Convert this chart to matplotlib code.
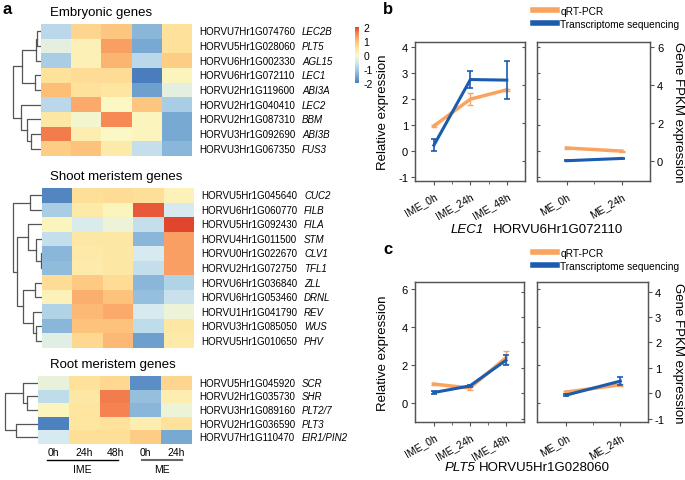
import matplotlib
matplotlib.use('Agg')
import matplotlib.pyplot as plt
import numpy as np
from matplotlib.colors import LinearSegmentedColormap
from matplotlib.transforms import offset_copy
from matplotlib.lines import Line2D

plt.rcParams['font.family'] = ['Liberation Sans', 'DejaVu Sans']
plt.rcParams['axes.unicode_minus'] = False

# ---------------- heatmap data (z-scores, columns IME 0h/24h/48h, ME 0h/24h)
col_labels = ['0h', '24h', '48h', '0h', '24h']

emb_ids = ['HORVU7Hr1G074760', 'HORVU5Hr1G028060', 'HORVU6Hr1G002330',
           'HORVU6Hr1G072110', 'HORVU2Hr1G119600', 'HORVU2Hr1G040410',
           'HORVU2Hr1G087310', 'HORVU3Hr1G092690', 'HORVU3Hr1G067350']
emb_genes = ['LEC2B', 'PLT5', 'AGL15', 'LEC1', 'ABI3A', 'LEC2', 'BBM', 'ABI3B', 'FUS3']
emb_z = [[-0.8, 0.7, 0.9, -1.3, 0.5],
         [-0.3, 0.2, 1.3, -1.5, 0.5],
         [-1.0, 0.2, 1.1, -0.8, 0.8],
         [0.5, 0.6, 0.6, -2.0, 0.1],
         [1.0, 0.5, 0.45, -1.6, -0.3],
         [-0.8, 1.2, 0.0, 0.9, -1.0],
         [0.4, -0.1, 1.5, 0.1, -1.5],
         [1.6, 0.25, 0.0, 0.1, -1.5],
         [0.8, 0.95, 0.35, -0.7, -1.3]]
emb_links = [(0, 1, 4.5), (9, 2, 5.5), (3, 4, 6), (10, 11, 19.3),
             (7, 8, 10), (6, 13, 13.7), (5, 14, 20), (12, 15, 28.3)]

shoot_ids = ['HORVU5Hr1G045640', 'HORVU6Hr1G060770', 'HORVU5Hr1G092430',
             'HORVU4Hr1G011500', 'HORVU0Hr1G022670', 'HORVU2Hr1G072750',
             'HORVU6Hr1G036840', 'HORVU6Hr1G053460', 'HORVU1Hr1G041790',
             'HORVU3Hr1G085050', 'HORVU5Hr1G010650']
shoot_genes = ['CUC2', 'FILB', 'FILA', 'STM', 'CLV1', 'TFL1', 'ZLL', 'DRNL', 'REV', 'WUS', 'PHV']
shoot_z = [[-1.9, 0.55, 0.6, 0.55, 0.15],
           [-1.0, 0.35, 0.1, 1.85, -0.5],
           [0.1, -0.45, -0.2, -0.7, 2.0],
           [-0.7, 0.4, 0.4, -1.3, 1.3],
           [-1.3, 0.35, 0.4, -0.5, 1.3],
           [-1.25, 0.3, 0.4, -0.7, 1.3],
           [0.6, 0.85, 0.6, -1.3, -0.9],
           [0.15, 1.15, 0.95, -1.2, -0.65],
           [-0.9, 1.05, 1.2, -0.5, -0.2],
           [-1.3, 0.95, 0.95, -0.75, 0.4],
           [-0.35, 0.65, 1.05, -1.6, 0.35]]
shoot_links = [(0, 1, 12), (4, 5, 1.2), (3, 12, 6), (2, 13, 14), (9, 10, 6),
               (8, 15, 9), (6, 7, 7), (17, 16, 18.7), (14, 18, 25.3), (11, 19, 28.7)]

root_ids = ['HORVU5Hr1G045920', 'HORVU2Hr1G035730', 'HORVU3Hr1G089160',
            'HORVU2Hr1G036590', 'HORVU7Hr1G110470']
root_genes = ['SCR', 'SHR', 'PLT2/7', 'PLT3', 'EIR1/PIN2']
root_z = [[-0.25, 0.5, 0.65, -1.8, 0.7],
          [-0.75, 0.4, 1.6, -1.2, 0.25],
          [0.1, 0.45, 1.55, -1.3, -0.2],
          [-1.95, 0.45, 0.5, 0.25, 0.5],
          [-0.5, 0.55, 0.55, 0.8, -1.5]]
root_links = [(1, 2, 10.7), (0, 5, 14.7), (3, 4, 22), (6, 7, 33)]

# ---------------- line plot data
ime_cats = ['IME_0h', 'IME_24h', 'IME_48h']
me_cats = ['ME_0h', 'ME_24h']

lec1_q_ime = [0.97, 2.0, 2.36]
lec1_q_ime_err = [0.04, 0.22, 0.05]
lec1_q_me = [0.12, 0.0]
lec1_q_me_err = [0.02, 0.02]
lec1_f_ime = [0.82, 4.28, 4.25]
lec1_f_ime_err = [0.33, 0.46, 1.0]
lec1_f_me = [0.0, 0.12]
lec1_f_me_err = [0.02, 0.04]

plt5_q_ime = [1.0, 0.79, 2.39]
plt5_q_ime_err = [0.03, 0.1, 0.33]
plt5_q_me = [0.58, 0.96]
plt5_q_me_err = [0.05, 0.06]
plt5_f_ime = [0.03, 0.29, 1.3]
plt5_f_ime_err = [0.05, 0.04, 0.2]
plt5_f_me = [-0.07, 0.48]
plt5_f_me_err = [0.03, 0.17]

W, H = 685, 481
orange = '#f9a35f'
blue = '#1b5bb0'
spine_c = '#555555'

cmap = LinearSegmentedColormap.from_list(
    'hm', ['#4a7dbd', '#78a9d2', '#a8cde4', '#d6eaf0', '#fbf8c6',
           '#fee39c', '#fdbf79', '#f88b55', '#e2452e'])

fig = plt.figure(figsize=(6.85, 4.81), dpi=100)


def box(x0, y0, x1, y1):
    return [x0 / W, 1 - y1 / H, (x1 - x0) / W, (y1 - y0) / H]


def draw_dendro(x0, y0, y1, n, links):
    axd = fig.add_axes(box(0, y0, x0, y1))
    pos = {i: (0.0, i + 0.5) for i in range(n)}
    for k, (a, b, h) in enumerate(links):
        ha, ya = pos[a]
        hb, yb = pos[b]
        axd.plot([ha, h, h, hb], [ya, ya, yb, yb], color='#555555', lw=0.9)
        pos[n + k] = (h, (ya + yb) / 2)
    axd.set_xlim(x0, 0)
    axd.set_ylim(n, 0)
    axd.axis('off')


def draw_heatmap(x0, y0, x1, y1, ids, genes, z, links, title):
    ax = fig.add_axes(box(x0, y0, x1, y1))
    data = np.array(z)
    n = data.shape[0]
    mesh = ax.pcolormesh(data, cmap=cmap, vmin=-2, vmax=2)
    ax.set_xlim(0, 5)
    ax.set_ylim(n, 0)
    ax.axis('off')
    tr_id = offset_copy(ax.get_yaxis_transform(), fig=fig, x=7, y=0, units='dots')
    tr_g = offset_copy(ax.get_yaxis_transform(), fig=fig, x=110, y=0, units='dots')
    for i in range(n):
        ax.text(1, i + 0.5, ids[i], transform=tr_id, va='center', ha='left', fontsize=7)
        ax.text(1, i + 0.5, genes[i], transform=tr_g, va='center', ha='left',
                fontsize=7, style='italic')
    fig.text(50 / W, 1 - (y0 - 12) / H, title, fontsize=9.5, va='center', ha='left')
    draw_dendro(x0, y0, y1, n, links)
    return ax, mesh


draw_heatmap(41, 25, 192, 157, emb_ids, emb_genes, emb_z, emb_links, 'Embryonic genes')
ax_s, mesh = draw_heatmap(42, 189, 194, 349, shoot_ids, shoot_genes, shoot_z, shoot_links,
                          'Shoot meristem genes')
ax_r, _ = draw_heatmap(38, 377, 192, 445, root_ids, root_genes, root_z, root_links,
                       'Root meristem genes')

# column labels and group bars under the root heatmap
tr_col = offset_copy(ax_r.get_xaxis_transform(), fig=fig, x=0, y=-8, units='dots')
for j, lab in enumerate(col_labels):
    ax_r.text(j + 0.5, 0, lab, transform=tr_col, ha='center', va='center', fontsize=7.5)
tr_bar = offset_copy(ax_r.get_xaxis_transform(), fig=fig, x=0, y=-16, units='dots')
ax_r.add_line(Line2D([0.29, 2.6], [0, 0], transform=tr_bar, color='black', lw=1, clip_on=False))
ax_r.add_line(Line2D([3.38, 4.68], [0, 0], transform=tr_bar, color='#666666', lw=1.5, clip_on=False))
tr_grp = offset_copy(ax_r.get_xaxis_transform(), fig=fig, x=0, y=-25, units='dots')
ax_r.text(1.45, 0, 'IME', transform=tr_grp, ha='center', va='center', fontsize=7.5)
ax_r.text(4.03, 0, 'ME', transform=tr_grp, ha='center', va='center', fontsize=7.5)

# colorbar
cax = fig.add_axes(box(355, 28, 359, 84))
cb = fig.colorbar(mesh, cax=cax, ticks=[-2, -1, 0, 1, 2])
cb.outline.set_visible(False)
cax.tick_params(labelsize=7.5, length=0, pad=3)


def style_axes(ax):
    for s in ax.spines.values():
        s.set_color(spine_c)
        s.set_linewidth(0.9)


def draw_panel(bx, cats, q, qe, f, fe, xlim, rel_lim, f_lim, rel_ticks, f_ticks, side):
    ax = fig.add_axes(box(*bx))
    tw = ax.twinx()
    x = np.arange(len(cats))
    ax.errorbar(x, q, yerr=qe, color=orange, lw=2.5, capsize=2, elinewidth=1, capthick=1)
    tw.errorbar(x, f, yerr=fe, color=blue, lw=2.2, capsize=2, elinewidth=1.2, capthick=1.2)
    ax.set_xlim(*xlim)
    ax.set_ylim(*rel_lim)
    tw.set_ylim(*f_lim)
    ax.set_yticks(rel_ticks)
    tw.set_yticks(f_ticks)
    ax.set_xticks(x)
    ax.set_xticks(np.arange(-0.5, len(cats), 0.5)[1:-1] if len(cats) > 2 else [0.5], minor=True)
    ax.set_xticklabels(cats, rotation=30, ha='right', rotation_mode='anchor', fontsize=7.5)
    ax.tick_params(axis='x', length=3, color=spine_c, pad=4)
    ax.tick_params(axis='x', which='minor', length=2, color=spine_c)
    if side == 'left':
        ax.tick_params(axis='y', labelsize=8, length=3, color=spine_c, pad=2)
        tw.tick_params(axis='y', direction='in', labelright=False, length=2, color=spine_c)
    else:
        ax.tick_params(axis='y', direction='in', labelleft=False, length=2, color=spine_c)
        tw.tick_params(axis='y', labelsize=8, length=3, color=spine_c, pad=2)
    style_axes(ax)
    style_axes(tw)
    return ax, tw


# panel b
draw_panel((415, 43, 525, 182), ime_cats, lec1_q_ime, lec1_q_ime_err, lec1_f_ime, lec1_f_ime_err,
           (-0.52, 2.5), (-1.15, 4.2), (-1.07, 6.26), [-1, 0, 1, 2, 3, 4], [0, 2, 4, 6], 'left')
draw_panel((537, 43, 650, 182), me_cats, lec1_q_me, lec1_q_me_err, lec1_f_me, lec1_f_me_err,
           (-0.54, 1.51), (-1.15, 4.2), (-1.07, 6.26), [-1, 0, 1, 2, 3, 4], [0, 2, 4, 6], 'right')
# panel c
draw_panel((415, 283, 524, 423), ime_cats, plt5_q_ime, plt5_q_ime_err, plt5_f_ime, plt5_f_ime_err,
           (-0.52, 2.5), (-1.0, 6.38), (-1.13, 4.38), [0, 2, 4, 6], [-1, 0, 1, 2, 3, 4], 'left')
draw_panel((537, 283, 648, 423), me_cats, plt5_q_me, plt5_q_me_err, plt5_f_me, plt5_f_me_err,
           (-0.54, 1.51), (-1.0, 6.38), (-1.13, 4.38), [0, 2, 4, 6], [-1, 0, 1, 2, 3, 4], 'right')

for yc in (112, 353):
    fig.text(383 / W, 1 - yc / H, 'Relative expression', rotation=90, fontsize=9.5,
             ha='center', va='center')
    fig.text(678 / W, 1 - yc / H, 'Gene FPKM expression', rotation=270, fontsize=9.5,
             ha='center', va='center')

handles = [Line2D([], [], color=orange, lw=4), Line2D([], [], color=blue, lw=4)]
names = ['qRT-PCR', 'Transcriptome sequencing']
for ytop in (7, 249):
    fig.legend(handles, names, loc='upper left', bbox_to_anchor=(533 / W, 1 - ytop / H),
               frameon=False, fontsize=7.3, handlelength=2.4, labelspacing=0.25,
               handletextpad=0.3, borderaxespad=0, borderpad=0.0)

# gene captions under b and c: italic symbol + plain ID
fig.text(484 / W, 1 - 230 / H, 'LEC1', style='italic', fontsize=9.5, ha='right', va='center')
fig.text(493 / W, 1 - 230 / H, 'HORVU6Hr1G072110', fontsize=9.5, ha='left', va='center')
fig.text(475 / W, 1 - 468 / H, 'PLT5', style='italic', fontsize=9.5, ha='right', va='center')
fig.text(479 / W, 1 - 468 / H, 'HORVU5Hr1G028060', fontsize=9.5, ha='left', va='center')

fig.text(7 / W, 1 - 10 / H, 'a', fontsize=12, fontweight='bold', ha='center', va='center')
fig.text(388 / W, 1 - 9 / H, 'b', fontsize=12, fontweight='bold', ha='center', va='center')
fig.text(388 / W, 1 - 250 / H, 'c', fontsize=12, fontweight='bold', ha='center', va='center')

fig.savefig('out.png', dpi=100)
